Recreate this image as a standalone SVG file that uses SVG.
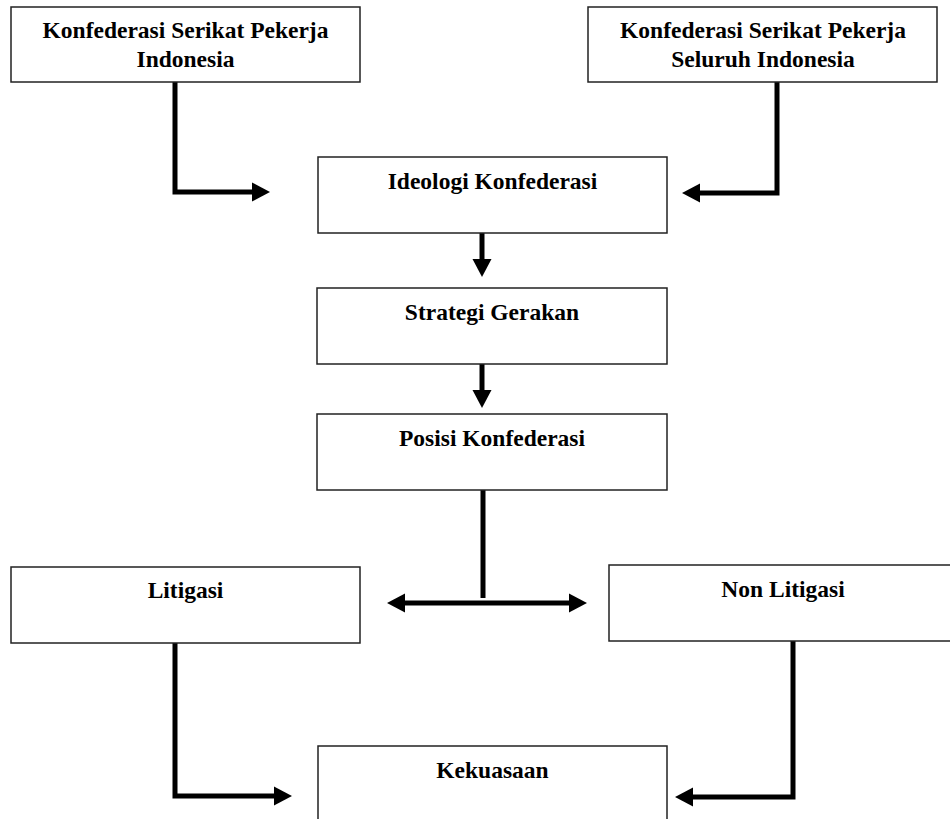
<svg xmlns="http://www.w3.org/2000/svg" width="950" height="819" viewBox="0 0 950 819">
<style>
.box{fill:#fff;stroke:#222;stroke-width:1.5}
.t{font-family:"Liberation Serif","Times New Roman",serif;font-weight:bold;font-size:23.5px;fill:#000;text-anchor:middle}
.c{fill:none;stroke:#000;stroke-width:5;stroke-linejoin:miter;stroke-linecap:butt}
</style>
<defs>
<marker id="ah" markerUnits="userSpaceOnUse" markerWidth="18" markerHeight="20" refX="2" refY="9.5" orient="auto-start-reverse" viewBox="0 0 18 19">
<path d="M0,0 L18,9.5 L0,19 z" fill="#000"/>
</marker>
</defs>
<rect width="950" height="819" fill="#fff"/>
<g id="connectors">
<path class="c" d="M175,82 V192 H254" marker-end="url(#ah)"/>
<path class="c" d="M777,82 V193 H698" marker-end="url(#ah)"/>
<path class="c" d="M482,233 V261" marker-end="url(#ah)"/>
<path class="c" d="M482,364 V392" marker-end="url(#ah)"/>
<path class="c" d="M483,490 V598"/>
<path class="c" d="M403,603 H571" marker-start="url(#ah)" marker-end="url(#ah)"/>
<path class="c" d="M175,643 V796 H276" marker-end="url(#ah)"/>
<path class="c" d="M793,641 V797 H691" marker-end="url(#ah)"/>
</g>
<g id="ksp-indonesia">
<rect class="box" x="11" y="7" width="349" height="75"/>
<text class="t" x="185.5" y="38">Konfederasi Serikat Pekerja</text>
<text class="t" x="185.5" y="67">Indonesia</text>
</g>
<g id="ksp-seluruh-indonesia">
<rect class="box" x="588" y="7" width="349" height="75"/>
<text class="t" x="763" y="38">Konfederasi Serikat Pekerja</text>
<text class="t" x="763" y="67">Seluruh Indonesia</text>
</g>
<g id="ideologi">
<rect class="box" x="318" y="157" width="349" height="76"/>
<text class="t" x="492.5" y="189">Ideologi Konfederasi</text>
</g>
<g id="strategi">
<rect class="box" x="317" y="288" width="350" height="76"/>
<text class="t" x="492" y="320">Strategi Gerakan</text>
</g>
<g id="posisi">
<rect class="box" x="317" y="414" width="350" height="76"/>
<text class="t" x="492" y="446">Posisi Konfederasi</text>
</g>
<g id="litigasi">
<rect class="box" x="11" y="567" width="349" height="76"/>
<text class="t" x="185.5" y="598">Litigasi</text>
</g>
<g id="non-litigasi">
<rect class="box" x="609" y="565" width="348" height="76"/>
<text class="t" x="783" y="597">Non Litigasi</text>
</g>
<g id="kekuasaan">
<rect class="box" x="318" y="746" width="349" height="80"/>
<text class="t" x="492.5" y="778">Kekuasaan</text>
</g>
</svg>
